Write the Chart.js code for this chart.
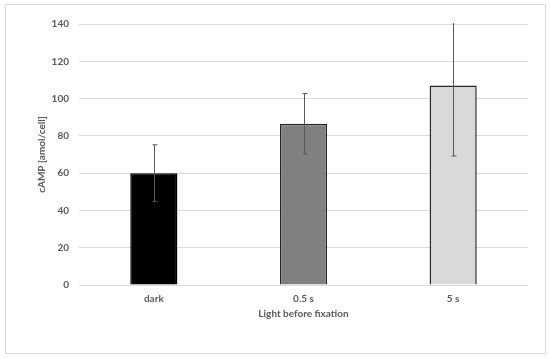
<!DOCTYPE html>
<html>
<head>
<meta charset="utf-8">
<script src="https://cdn.jsdelivr.net/npm/chart.js@4.4.1/dist/chart.umd.min.js"></script>
<style>
  html, body { margin: 0; padding: 0; background: #ffffff; }
  #wrap { position: relative; width: 550px; height: 359px; }
</style>
</head>
<body>
<div id="wrap"><canvas id="chart" width="550" height="359"></canvas></div>
<script>
// data
const categories = ['dark', '0.5 s', '5 s'];
const camp = [60, 86.5, 107];
const campErr = [15.2, 16.2, 37.8];
const barColors = ['#000000', '#808080', '#d9d9d9'];
const yTicks = [0, 20, 40, 60, 80, 100, 120, 140];

const FONT = { family: "Lato, 'Open Sans', sans-serif", size: 10, weight: 'bold' };

// outer frame like the Excel chart area
const framePlugin = {
    id: 'frame',
    beforeDraw(chart) {
        const ctx = chart.ctx;
        ctx.save();
        ctx.fillStyle = '#ffffff';
        ctx.fillRect(0, 0, chart.width, chart.height);
        ctx.strokeStyle = '#d9d9d9';
        ctx.lineWidth = 1;
        ctx.strokeRect(5.5, 4.5, 540, 349);
        ctx.restore();
    }
};

// vertical error bars with small caps, clipped to the plot area
const errorBarPlugin = {
    id: 'errorBars',
    afterDatasetsDraw(chart) {
        const ctx = chart.ctx;
        const y = chart.scales.y;
        const meta = chart.getDatasetMeta(0);
        const area = chart.chartArea;
        ctx.save();
        ctx.beginPath();
        ctx.rect(area.left, area.top - 1, area.right - area.left, area.bottom - area.top + 2);
        ctx.clip();
        ctx.strokeStyle = '#595959';
        ctx.lineWidth = 1;
        meta.data.forEach((bar, i) => {
            const x = Math.round(bar.x) + 0.5;
            const hi = y.getPixelForValue(camp[i] + campErr[i]);
            const lo = y.getPixelForValue(camp[i] - campErr[i]);
            ctx.beginPath();
            ctx.moveTo(x, hi);
            ctx.lineTo(x, lo);
            ctx.moveTo(x - 2, hi);
            ctx.lineTo(x + 3, hi);
            ctx.moveTo(x - 2, lo);
            ctx.lineTo(x + 3, lo);
            ctx.stroke();
        });
        ctx.restore();
    }
};

new Chart(document.getElementById('chart'), {
    type: 'bar',
    data: {
        labels: categories,
        datasets: [{
            data: camp,
            backgroundColor: barColors,
            borderColor: ['#000000', '#262626', '#262626'],
            borderWidth: 1.5,
            barPercentage: 1,
            categoryPercentage: 0.315
        }]
    },
    options: {
        responsive: false,
        animation: false,
        layout: { padding: { left: 0, right: 22, top: 24, bottom: 0 } },
        plugins: { legend: { display: false }, tooltip: { enabled: false } },
        scales: {
            x: {
                grid: { display: false, drawTicks: false },
                border: { display: false },
                ticks: { color: '#595959', font: FONT, padding: 8 },
                title: {
                    display: true,
                    text: 'Light before fixation',
                    color: '#595959',
                    font: FONT,
                    padding: { top: 0, bottom: 39 }
                },
                afterFit: s => { s.height = 74; }
            },
            y: {
                min: 0,
                max: 140,
                afterBuildTicks: s => { s.ticks = yTicks.map(v => ({ value: v })); },
                grid: { color: '#d9d9d9', drawTicks: false },
                border: { display: false },
                ticks: { color: '#595959', font: FONT, padding: 10 },
                title: {
                    display: true,
                    text: 'cAMP [amol/cell]',
                    color: '#595959',
                    font: FONT,
                    padding: { top: 36, bottom: 0 }
                },
                afterFit: s => { s.width = 79; }
            }
        }
    },
    plugins: [framePlugin, errorBarPlugin]
});
</script>
</body>
</html>
